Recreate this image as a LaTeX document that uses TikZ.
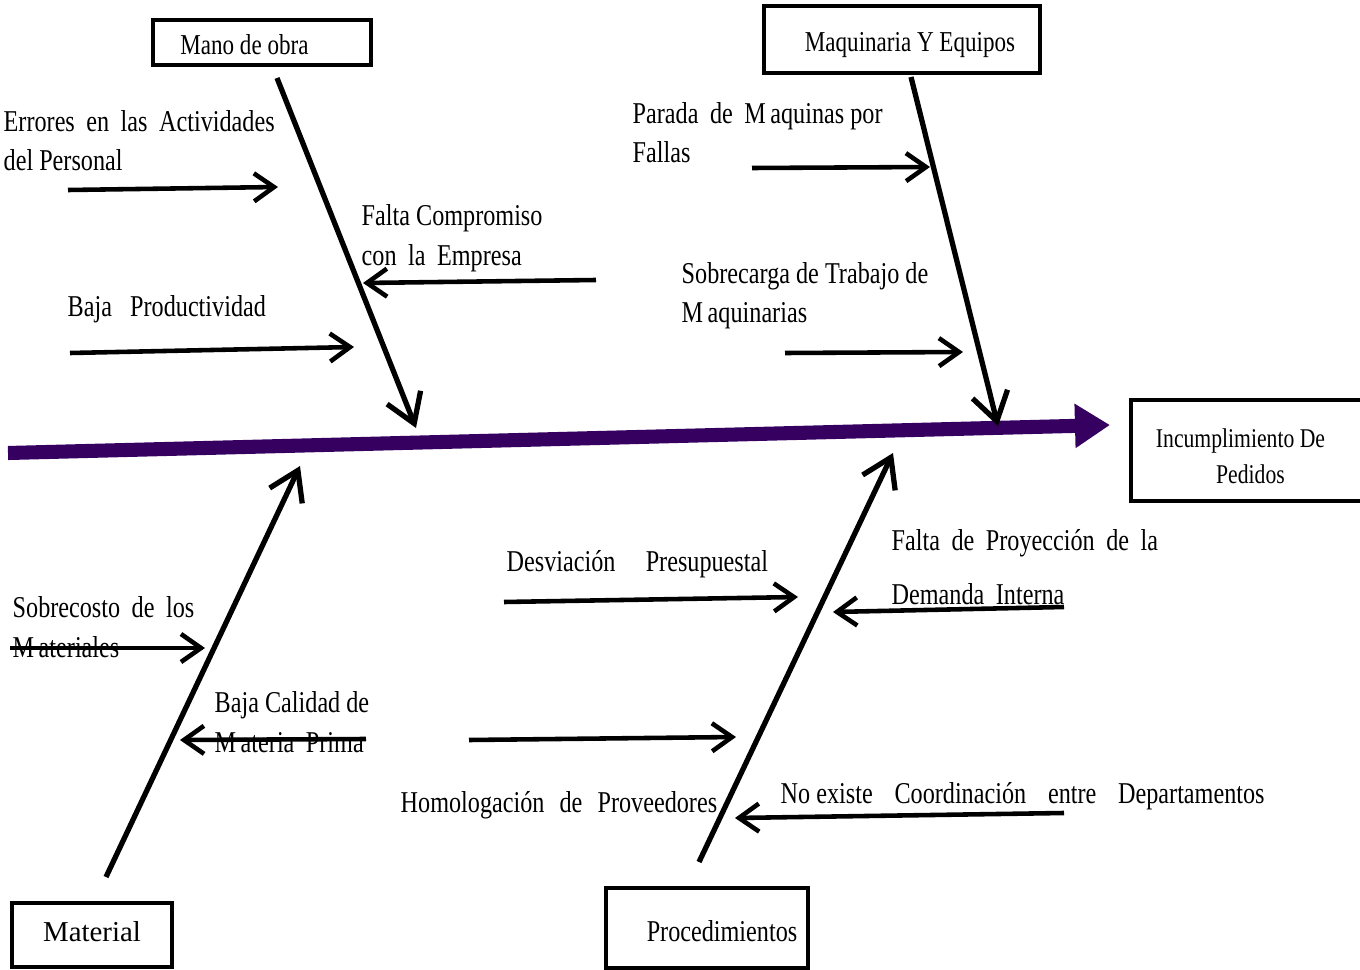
\documentclass[tikz,border=0pt]{standalone}
\usepackage{fontspec}
\setmainfont{Liberation Serif}[FakeStretch=0.8]
\newfontfamily\anchafont{Liberation Serif}
\usetikzlibrary{positioning,arrows.meta}
\definecolor{espina}{RGB}{54,0,96}
\newcommand{\ws}{\hspace{0.38em}}

\begin{document}
\begin{tikzpicture}[x=0.01cm,y=-0.01cm,
  caja/.style={draw,line width=1pt,inner sep=0pt,align=center,font=\fontsize{8.2}{11.3}\selectfont},
  causa/.style={anchor=base west,inner sep=0pt,align=left,font=\fontsize{8.6}{11.3}\selectfont},
  hueso/.style={line width=1.5pt,-{Straight Barb[length=2.8mm,width=3.6mm]}},
  flecha/.style={line width=1.3pt,-{Straight Barb[length=2mm,width=2.8mm]}}]
  \useasboundingbox (0,0) rectangle (1360,970);

  \node[caja,minimum width=2.18cm,minimum height=0.45cm] (mano) at (262,42.5) {\rule{0pt}{7pt}Mano de obra\hspace{0.35cm}};
  \node[caja,minimum width=2.76cm,minimum height=0.67cm] (maquinaria) at (902,39.5) {\rule{0pt}{8.6pt}\hspace{0.16cm}Maquinaria Y Equipos};
  \node[caja,minimum width=2.59cm,minimum height=1.01cm,font=\fontsize{7.7}{10.3}\selectfont] (efecto) at (1260.5,450.5) {\rule{0pt}{8.8pt}Incumplimiento De\hspace*{0.4cm}\\Pedidos\hspace*{0.2cm}};
  \node[caja,minimum width=1.6cm,minimum height=0.64cm,font=\fontsize{8.2}{11.3}\anchafont] (material) at (92,935) {\rule[-1.8pt]{0pt}{1.8pt}Material};
  \node[caja,minimum width=2.02cm,minimum height=0.8cm,font=\fontsize{8.6}{11.3}\selectfont] (procedimientos) at (707,928) {\rule{0pt}{7.8pt}\hspace{0.3cm}Procedimientos};

  \coordinate (cola) at (8,453);
  \coordinate (punta) at (1110,425);
  \draw[espina,line width=4pt,-{Triangle[length=3.5mm,width=4.2mm]}] (cola) -- (punta);

  \coordinate (m1) at (277,78);
  \coordinate (m2) at (416,428);
  \coordinate (q1) at (911,77);
  \coordinate (q2) at (998,426);
  \coordinate (t1) at (106,877);
  \coordinate (t2) at (300,466);
  \coordinate (p1) at (699,862);
  \coordinate (p2) at (893,453);
  \draw[hueso] (m1) -- (m2);
  \draw[hueso] (q1) -- (q2);
  \draw[hueso] (t1) -- (t2);
  \draw[hueso] (p1) -- (p2);

  \node[causa] (errores) at (3,171) {Errores\ws en\ws las\ws Actividades\\del Personal};
  \node[causa] (productividad) at (67,317) {Baja\hspace{0.6em}Productividad};
  \node[causa] (compromiso) at (361,265) {Falta Compromiso\\con\ws la\ws Empresa};
  \node[causa] (parada) at (632,163) {Parada\ws de\ws M\kern0.15em aquinas por\\Fallas};
  \node[causa] (sobrecarga) at (681,323) {Sobrecarga de Trabajo de\\M\kern0.15em aquinarias};
  \node[causa] (sobrecosto) at (12,657) {Sobrecosto\ws de\ws los\\M\kern0.15em ateriales};
  \node[causa] (calidad) at (214,752) {Baja Calidad de\\M\kern0.15em ateria\ws Prima};
  \node[causa] (desviacion) at (506,571) {Desviación\hspace{1em}Presupuestal};
  \node[causa] (proyeccion) at (891,604) {Falta\ws de\ws Proyección\ws de\ws la\\[4pt]Demanda\ws Interna};
  \node[causa] (homologacion) at (400,812) {Homologación\hspace{0.5em}de\hspace{0.5em}Proveedores};
  \node[causa] (coordinacion) at (780,803) {No existe\hspace{0.72em}Coordinación\hspace{0.72em}entre\hspace{0.72em}Departamentos};

  \coordinate (a1) at (68,190);
  \coordinate (b1) at (278,187);
  \coordinate (a2) at (70,353);
  \coordinate (b2) at (354,347);
  \coordinate (a3) at (596,280);
  \coordinate (b3) at (363,283);
  \coordinate (a4) at (752,168);
  \coordinate (b4) at (930,167);
  \coordinate (a5) at (785,353);
  \coordinate (b5) at (963,352);
  \coordinate (a6) at (10,648);
  \coordinate (b6) at (205,648);
  \coordinate (a7) at (366,739);
  \coordinate (b7) at (180,740);
  \coordinate (a8) at (504,602);
  \coordinate (b8) at (798,597);
  \coordinate (a9) at (1064,607);
  \coordinate (b9) at (833,612);
  \coordinate (a10) at (469,740);
  \coordinate (b10) at (736,737);
  \coordinate (a11) at (1064,813);
  \coordinate (b11) at (735,818);
  \draw[flecha] (a1) -- (b1);
  \draw[flecha] (a2) -- (b2);
  \draw[flecha] (a3) -- (b3);
  \draw[flecha] (a4) -- (b4);
  \draw[flecha] (a5) -- (b5);
  \draw[flecha] (a6) -- (b6);
  \draw[flecha] (a7) -- (b7);
  \draw[flecha] (a8) -- (b8);
  \draw[flecha] (a9) -- (b9);
  \draw[flecha] (a10) -- (b10);
  \draw[flecha] (a11) -- (b11);
\end{tikzpicture}
\end{document}
